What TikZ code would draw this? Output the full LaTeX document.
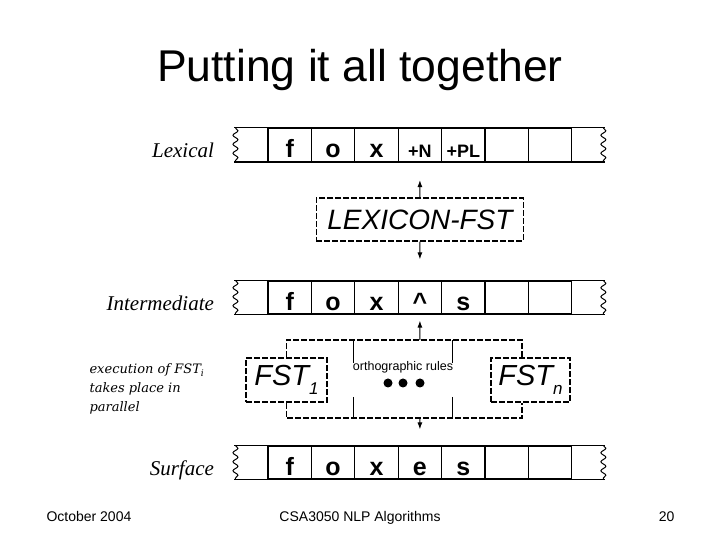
\documentclass[tikz,border=0pt]{standalone}
\usepackage{fontspec}
\setmainfont{Liberation Sans}
\newfontfamily\tapelabelfont{Liberation Serif}
\newfontfamily\notefont{DejaVu Serif}
\usetikzlibrary{arrows.meta,decorations.pathmorphing}

\newcommand{\tg}[1]{{\fontsize{18}{18}\selectfont #1}}
\newcommand{\sub}[1]{\raisebox{-9pt}{\fontsize{17}{17}\selectfont #1}}

\begin{document}
\begin{tikzpicture}[x=1pt,y=1pt,
  >={Latex[length=7pt,width=5pt]},
  cell/.style={draw, line width=1.1pt, minimum width=43.4pt, minimum height=33pt,
    inner sep=0pt, text height=26pt, text depth=0pt,
    font=\fontsize{25}{25}\selectfont\bfseries},
  edge/.style={line width=1.1pt},
  wavy/.style={line width=1pt, decorate, decoration={snake, segment length=9pt, amplitude=2.5pt}},
  fstbox/.style={draw, line width=1.2pt, dash pattern=on 6pt off 2pt, inner sep=0pt,
    font=\fontsize{28}{28}\selectfont\itshape},
  rail/.style={line width=1.2pt, dash pattern=on 6pt off 2pt},
  tapelabel/.style={anchor=base east, font=\tapelabelfont\fontsize{21}{21}\selectfont\itshape},
  footer/.style={font=\fontsize{14}{14}\selectfont}]
  \useasboundingbox (0,0) rectangle (720,540);

  \node[font=\fontsize{44.5}{44.5}\selectfont] (title) at (360,470) {Putting it all together};

  % the three tapes
  \foreach \c [count=\i] in {f,o,x,\tg{+N},\tg{+PL},{},{}}
    \node[cell] (lex\i) at ({268+43.4*(\i-0.5)},395) {\c};
  \foreach \c [count=\i] in {f,o,x,\textasciicircum,s,{},{}}
    \node[cell] (mid\i) at ({268+43.4*(\i-0.5)},242.5) {\c};
  \foreach \c [count=\i] in {f,o,x,e,s,{},{}}
    \node[cell] (sur\i) at ({268+43.4*(\i-0.5)},77.5) {\c};
  \foreach \t in {lex,mid,sur} {
    \draw[edge] ([xshift=-33pt]\t1.north west) -- ([xshift=33pt]\t7.north east);
    \draw[edge] ([xshift=-33pt]\t1.south west) -- ([xshift=33pt]\t7.south east);
    \draw[wavy] ([xshift=-32pt]\t1.north west) -- ([xshift=-32pt]\t1.south west);
    \draw[wavy] ([xshift=31pt]\t7.north east) -- ([xshift=31pt]\t7.south east);
  }
  \node[tapelabel] (lexlbl) at ([xshift=-50pt]lex1.base west) {Lexical};
  \node[tapelabel] (midlbl) at ([xshift=-50pt]mid1.base west) {Intermediate};
  \node[tapelabel] (surlbl) at ([xshift=-50pt]sur1.base west) {Surface};

  % lexicon transducer
  \node[fstbox, minimum width=207pt, minimum height=43pt] (lexfst) at (419.9,320.5) {LEXICON-FST};
  \draw[->, edge, shorten >=18pt] (lexfst) -- (lex4);
  \draw[->, edge, shorten >=21pt] (lexfst) -- (mid4);

  % orthographic rules
  \node[fstbox, minimum width=81pt, minimum height=44pt, font=\fontsize{29}{29}\selectfont\itshape] (fst1) at (286.5,160) {FST\sub{1}};
  \node[fstbox, minimum width=79pt, minimum height=44pt, font=\fontsize{29}{29}\selectfont\itshape] (fstn) at (530.5,160) {FST\sub{n}};
  \coordinate (railtop) at (419.9,200);
  \coordinate (railbot) at (419.9,122);
  \draw[rail] (fst1.north) |- ([xshift=-8.5pt]fstn.north |- railtop) -- ([xshift=-8.5pt]fstn.north);
  \draw[rail] (fst1.south) |- ([xshift=-8.5pt]fstn.south |- railbot) -- ([xshift=-8.5pt]fstn.south);
  \foreach \x in {353,452} {
    \draw[line width=0.8pt] (\x,200) -- (\x,177);
    \draw[line width=0.8pt] (\x,143) -- (\x,122);
  }
  \node[font=\fontsize{12.5}{12.5}\selectfont] (ortho) at (403,173) {orthographic rules};
  \foreach \x in {388,403,420}
    \fill (\x,157) circle (4.5pt);
  \draw[->, edge, shorten >=6pt] (railtop) -- (mid4);
  \draw[->, edge, shorten >=16pt] (railbot) -- (sur4);

  \node[anchor=west, align=left, font=\notefont\itshape\fontsize{13}{19}\selectfont] (note)
    at (86,151) {execution of FST\textsubscript{i}\\takes place in\\parallel};

  \node[footer, anchor=base west] (date) at (43,18) {October 2004};
  \node[footer, anchor=base] (course) at (360,18) {CSA3050 NLP Algorithms};
  \node[footer, anchor=base east] (page) at (678,18) {20};
\end{tikzpicture}
\end{document}
